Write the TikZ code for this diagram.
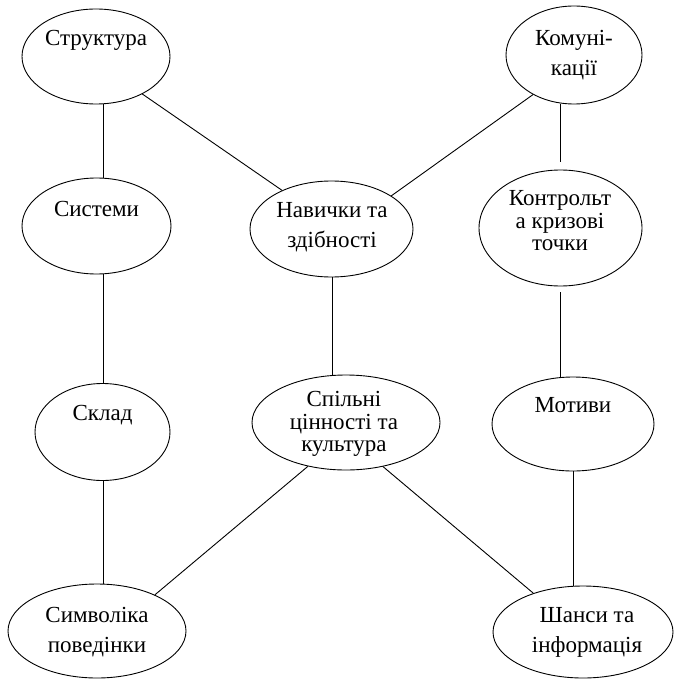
\documentclass[tikz,border=0pt]{standalone}
\usepackage{fontspec}
\setmainfont{Liberation Serif}
\usetikzlibrary{shapes.geometric}
\begin{document}
\begin{tikzpicture}[x=1pt,y=-1pt,
  oval/.style={draw, ellipse, line width=0.9pt, inner sep=0pt},
  lbl/.style={align=center, font=\fontsize{23}{30}\selectfont, inner sep=0pt},
  lbltight/.style={align=center, font=\fontsize{23}{22.5}\selectfont, inner sep=0pt},
  conn/.style={line width=0.9pt}]
\fill[white] (0,0) rectangle (675,679);
\useasboundingbox (0,0) rectangle (675,679);
% ellipses
\node[oval, minimum width=148pt, minimum height=95pt] (e1) at (96,56.5) {};
\node[oval, minimum width=136pt, minimum height=98pt] (e2) at (574,55) {};
\node[oval, minimum width=149pt, minimum height=96pt] (e3) at (96.5,226) {};
\node[oval, minimum width=163pt, minimum height=96pt] (e4) at (331.5,229) {};
\node[oval, minimum width=163pt, minimum height=116pt] (e5) at (560.5,228) {};
\node[oval, minimum width=135pt, minimum height=97pt] (e6) at (102.5,432) {};
\node[oval, minimum width=188pt, minimum height=95pt] (e7) at (346,422.5) {};
\node[oval, minimum width=162pt, minimum height=94pt] (e8) at (573,424) {};
\node[oval, minimum width=178pt, minimum height=94pt] (e9) at (97,631) {};
\node[oval, minimum width=180pt, minimum height=92pt] (e10) at (583,632) {};
% labels
\node[lbl] (t1) at (96,40) {Структура};
\node[lbl] (t2) at (574,55.5) {Комуні-\\кації};
\node[lbl] (t3) at (96.5,209) {Системи};
\node[lbl] (t4) at (332,227) {Навички та\\здібності};
\node[lbltight] (t5) at (560,221) {Контрольт\\а кризові\\точки};
\node[lbl] (t6) at (102.5,415) {Склад};
\node[lbltight] (t7) at (344,424) {Спільні\\цінності та\\культура};
\node[lbl] (t8) at (573,405) {Мотиви};
\node[lbl] (t9) at (97,632) {Символіка\\поведінки};
\node[lbl] (t10) at (587,632) {Шанси та\\інформація};
% column guides
\coordinate (colA) at (103,0);
\coordinate (colB) at (332,0);
\coordinate (colC) at (560,0);
\coordinate (colD) at (573,0);
% connectors
\draw[conn] (e1.south -| colA) -- (e3.north -| colA);
\draw[conn] (e3.south -| colA) -- (e6.north -| colA);
\draw[conn] (e6.south -| colA) -- (e9.north -| colA);
\draw[conn] (e4.south -| colB) -- (e7.north -| colB);
\draw[conn, shorten >=8pt] (e2.south -| colC) -- (e5.north -| colC);
\draw[conn, shorten <=6pt] (e5.south -| colC) -- (e8.north -| colC);
\draw[conn] (e8.south -| colD) -- (e10.north -| colD);
\draw[conn] (e1.-39.3) -- (e4.142.5);
\draw[conn] (e2.224.3) -- (e4.29.5);
\draw[conn] (e7.229.8) -- (e9.32.8);
\draw[conn] (e7.-50.6) -- (e10.142);
\end{tikzpicture}
\end{document}
